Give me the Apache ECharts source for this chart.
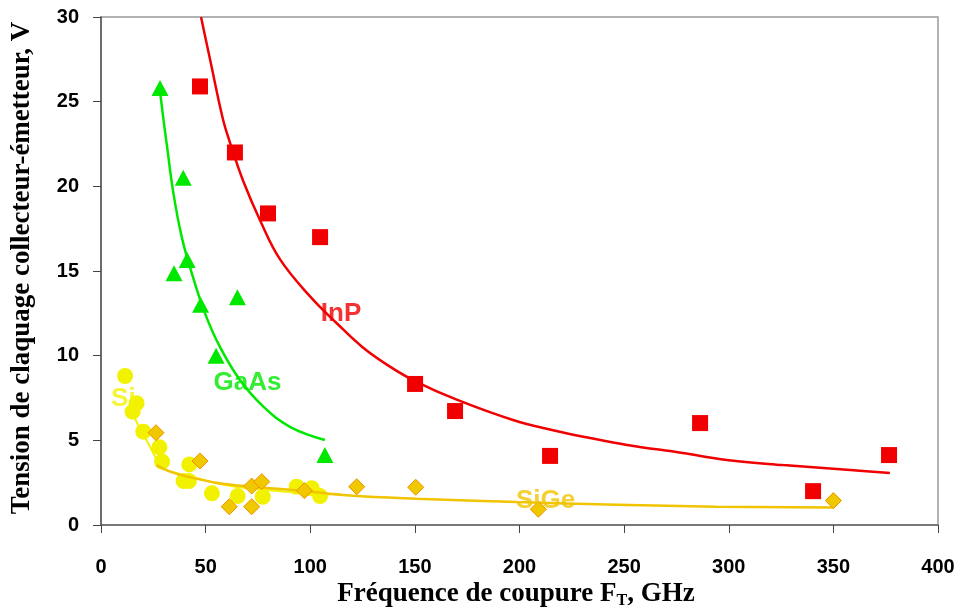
<!DOCTYPE html>
<html>
<head>
<meta charset="utf-8">
<script src="https://cdn.jsdelivr.net/npm/echarts@6/dist/echarts.min.js"></script>
<style>
html,body{margin:0;padding:0;background:#fff;}
#c{width:962px;height:609px;}
</style>
</head>
<body>
<div id="c"></div>
<script>
// ---- data ----
var xTicks = [0, 400, 50];   // min, max, interval (GHz)
var yTicks = [0, 30, 5];     // min, max, interval (V)

var inpPoints  = [[47.3,25.9],[64.0,22.0],[79.8,18.4],[104.7,17.0],[150.1,8.33],[169.2,6.73],[214.6,4.08],[286.3,6.02],[340.3,2.0],[376.6,4.13]];
var inpCurve   = [[47.8,30],[52.1,27.5],[58.4,23.9],[61.6,22.6],[68,20.3],[76,18.0],[85.5,15.7],[99.9,13.5],[112.8,11.9],[125,10.5],[138.1,9.35],[150,8.5],[170,7.4],[196.9,6.2],[216,5.6],[233.7,5.14],[251.4,4.73],[278,4.25],[299,3.84],[326,3.54],[358,3.25],[377,3.07]];

var gaasPoints = [[28.2,25.8],[39.3,20.5],[34.9,14.87],[41.2,15.65],[47.6,13.0],[65.2,13.45],[55.0,10.0],[107,4.13]];
var gaasCurve  = [[28.4,25.4],[29.8,24.0],[31.4,22.5],[34.6,19.6],[38.6,17.0],[43.3,14.9],[49.7,12.5],[56.9,10.5],[66.4,8.56],[77.6,6.99],[90.3,5.8],[107,5.02]];

var siPoints   = [[11.5,8.8],[17.0,7.19],[15.1,6.69],[20.2,5.51],[27.9,4.59],[29.2,3.74],[42.2,3.58],[39.5,2.6],[42.0,2.6],[53.0,1.87],[65.3,1.71],[77.3,1.67],[93.5,2.26],[100.7,2.17],[104.7,1.71]];
var siCurve    = [[15.5,6.6],[16.2,6.3],[19.5,5.5],[22.6,4.82],[29,3.44],[35,3.1],[43.3,2.85],[55.3,2.46],[65,2.25],[79.2,2.07],[95.1,1.91],[110,1.8]];

var sigePoints = [[26.3,5.45],[47.3,3.78],[61.3,1.08],[72.0,1.08],[72.0,2.3],[76.8,2.56],[97.2,2.03],[122.2,2.26],[150.4,2.23],[209,0.93],[350,1.44]];
var sigeCurve  = [[26.6,3.54],[33,3.15],[41.7,2.85],[55,2.5],[72,2.26],[95,2.03],[118.8,1.74],[150.9,1.55],[198.7,1.36],[246.4,1.2],[294,1.08],[350,1.04]];

var labelNames = ['InP','GaAs','Si','SiGe'];
var labelPos   = [[114.7,12.5],[70.0,8.4],[10.7,7.45],[212.5,1.4]];

var xTitle = 'Fréquence de coupure F';
var xTitleSub = 'T';
var xTitleEnd = ', GHz';
var yTitle = 'Tension de claquage collecteur-émetteur, V';

// ---- colours ----
var cInP = '#f00000', cGaAs = '#00e800', cSi = '#f2f200', cSiGe = '#f0c800', cSiGeLine = '#f0c400', cSiGeBorder = '#f09000';
var labelColors = [cInP, cGaAs, cSi, cSiGeLine];

var chart = echarts.init(document.getElementById('c'), null, {renderer:'canvas'});

var tickFont = {fontFamily:'Liberation Sans', fontWeight:'bold', fontSize:20, color:'#000'};

var labelData = labelNames.map(function(n,i){ return {name:n, value:labelPos[i], label:{color:labelColors[i]}}; });

chart.setOption({
  animation:false,
  backgroundColor:'#fff',
  grid:{left:101, right:24, top:17, bottom:84, containLabel:false, outerBoundsMode:'none',
        show:true, borderColor:'#999', borderWidth:1.5, backgroundColor:'transparent'},
  xAxis:{
    type:'value', min:xTicks[0], max:xTicks[1], interval:xTicks[2],
    axisLine:{show:true, onZero:false, lineStyle:{color:'#666', width:1.5}},
    axisTick:{show:true, inside:false, length:8, lineStyle:{color:'#444'}},
    axisLabel:Object.assign({margin:32}, tickFont),
    splitLine:{show:false}
  },
  yAxis:{
    type:'value', min:yTicks[0], max:yTicks[1], interval:yTicks[2],
    axisLine:{show:true, onZero:false, lineStyle:{color:'#555', width:1.5}},
    axisTick:{show:true, inside:false, length:8, lineStyle:{color:'#444'}},
    axisLabel:Object.assign({margin:22}, tickFont),
    splitLine:{show:false}
  },
  graphic:[
    {type:'text', x:22, y:268, rotation:Math.PI/2,
     style:{text:yTitle, fontFamily:'Liberation Serif', fontWeight:'bold', fontSize:27, fill:'#000', align:'center', verticalAlign:'middle'}},
    {type:'text', x:516, y:594,
     style:{text:'{a|'+xTitle+'}{s|'+xTitleSub+'}{a|'+xTitleEnd+'}', align:'center', verticalAlign:'middle',
       rich:{
         a:{fontFamily:'Liberation Serif', fontWeight:'bold', fontSize:27, fill:'#000'},
         s:{fontFamily:'Liberation Serif', fontWeight:'bold', fontSize:16, fill:'#000', padding:[14,0,0,0]}
       }}}
  ],
  series:[
    {type:'line', data:siCurve, showSymbol:false, symbol:'none', smooth:0.4, lineStyle:{color:cSi, width:2}, z:3},
    {type:'scatter', data:siPoints, symbol:'circle', symbolSize:16, itemStyle:{color:cSi, opacity:1}, z:2},
    {type:'line', data:sigeCurve, showSymbol:false, symbol:'none', smooth:0.4, lineStyle:{color:cSiGeLine, width:2.5}, z:4},
    {type:'scatter', data:sigePoints, symbol:'diamond', symbolSize:16, itemStyle:{color:cSiGe, borderColor:cSiGeBorder, borderWidth:1, opacity:1}, z:5},
    {type:'line', data:gaasCurve, showSymbol:false, symbol:'none', smooth:0.4, lineStyle:{color:cGaAs, width:2.5}, z:4},
    {type:'scatter', data:gaasPoints, symbol:'triangle', symbolSize:[17,16], itemStyle:{color:cGaAs, opacity:1}, z:5},
    {type:'line', data:inpCurve, showSymbol:false, symbol:'none', smooth:0.4, lineStyle:{color:cInP, width:2.5}, z:4},
    {type:'scatter', data:inpPoints, symbol:'rect', symbolSize:16, itemStyle:{color:cInP, opacity:1}, z:5},
    {type:'scatter', data:labelData, symbolSize:1, itemStyle:{color:'transparent'}, z:6, silent:true,
     label:{show:true, position:'inside', formatter:'{b}', fontFamily:'Liberation Sans', fontWeight:'bold', fontSize:26}}
  ]
});
</script>
</body>
</html>
